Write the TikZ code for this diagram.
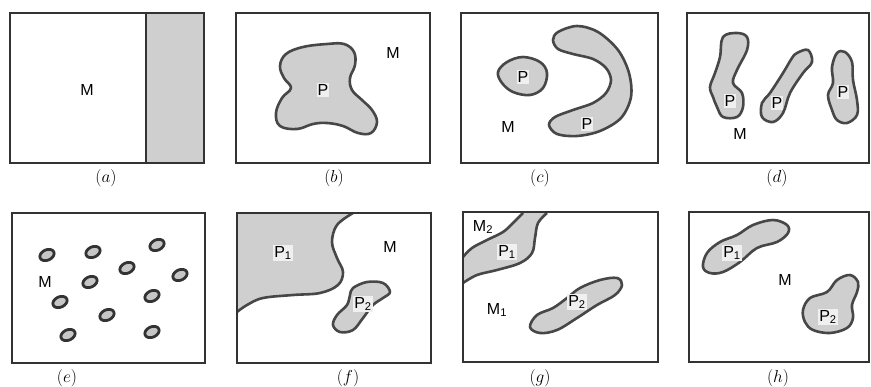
\documentclass[tikz,border=0pt]{standalone}
\usepackage{fontspec}
\setsansfont{Liberation Sans}
\begin{document}
\begin{tikzpicture}[x=1pt,y=-1pt,
  frame/.style={draw=black!80,line width=1.6pt},
  blob/.style={fill=gray!38,draw=black!72,line width=2.6pt,line join=round},
  region/.style={fill=gray!38},
  edge/.style={draw=black!72,line width=2.6pt},
  lab/.style={font=\sffamily\fontsize{16}{18}\selectfont,inner sep=1pt},
  plab/.style={lab,fill=gray!12},
  caplab/.style={font=\fontsize{16}{18}\selectfont},
  dot/.style={fill=gray!45,draw=black!80,line width=2.8pt}]
\useasboundingbox (0,0) rectangle (871,386);
% (a)
\fill[region] (146,13) rectangle (204,163);
\draw[frame] (146,13) -- (146,163);
\draw[frame] (10,13) rectangle (204,163);
\node[lab] (aM) at (87,90) {M};
\node[caplab] (ca) at (106,178) {$(a)$};
% (b)
\draw[frame] (236,13) rectangle (430,163);
\draw[blob] plot[smooth cycle,tension=0.65] coordinates {(286,54) (303,47) (327,44) (344,44) (354,52) (355,65) (350,78) (352,90) (362,100) (372,110) (377,122) (371,133) (358,133) (343,126) (327,123) (313,124) (297,129) (280,126) (276,113) (282,98) (291,88) (284,78) (280,66)};
\node[plab] (bP) at (323,90) {P};
\node[lab] (bM) at (393,53) {M};
\node[caplab] (cb) at (334,178) {$(b)$};
% (c)
\draw[frame] (461,13) rectangle (658,163);
\draw[blob] plot[smooth cycle,tension=0.6] coordinates {(498,72) (507,62) (523,57) (540,62) (547,73) (543,88) (530,95) (513,92) (502,83)};
\draw[blob] plot[smooth cycle,tension=0.55] coordinates {(558,32) (577,26) (598,32) (618,50) (629,73) (631,97) (621,118) (600,131) (577,136) (557,134) (549,125) (555,117) (573,110) (593,103) (606,93) (611,80) (606,68) (593,59) (573,54) (558,49) (553,40)};
\node[plab] (cP1) at (523,77) {P};
\node[plab] (cP2) at (587,124) {P};
\node[lab] (cM) at (508,127) {M};
\node[caplab] (cc) at (540,178) {$(c)$};
% (d)
\draw[frame] (687,13) rectangle (869,163);
\draw[blob] plot[smooth cycle,tension=0.6] coordinates {(723,37) (737,33) (747,37) (747,50) (737,70) (733,83) (742,93) (743,107) (737,117) (723,117) (717,107) (713,97) (710,87) (715,73) (720,57)};
\draw[blob] plot[smooth cycle,tension=0.6] coordinates {(797,53) (808,50) (812,62) (803,73) (790,93) (783,113) (773,122) (762,117) (762,103) (770,93) (783,73) (792,58)};
\draw[blob] plot[smooth cycle,tension=0.6] coordinates {(837,53) (845,52) (852,62) (853,80) (857,100) (857,115) (847,123) (837,120) (832,110) (828,95) (833,83) (832,67)};
\node[plab] (dP1) at (730,101) {P};
\node[plab] (dP2) at (777,103) {P};
\node[plab] (dP3) at (843,92) {P};
\node[lab] (dM) at (740,134) {M};
\node[caplab] (cd) at (777,178) {$(d)$};
% (e)
\draw[frame] (12,213) rectangle (205,363);
\foreach \x/\y in {47/255,93/252,157/245,127/268,180/275,90/282,60/302,152/296,107/315,68/335,152/332}
  \draw[dot,rotate around={25:(\x,\y)}] (\x,\y) ellipse (7.5 and 5.2);
\node[lab] (eM) at (45,282) {M};
\node[caplab] (ce) at (67,378) {$(e)$};
% (f)
\fill[region] (237,213) -- plot[smooth,tension=0.6] coordinates {(353,213) (337,225) (332,242) (337,258) (343,272) (338,285) (320,293) (293,295) (263,298) (247,305) (237,312)} -- cycle;
\draw[edge] plot[smooth,tension=0.6] coordinates {(353,213) (337,225) (332,242) (337,258) (343,272) (338,285) (320,293) (293,295) (263,298) (247,305) (237,312)};
\draw[blob] plot[smooth cycle,tension=0.6] coordinates {(353,288) (367,282) (383,283) (390,292) (383,298) (373,305) (363,318) (353,330) (340,332) (333,325) (337,315) (347,305) (350,295)};
\draw[frame] (237,213) rectangle (431,363);
\node[plab] (fP1) at (283,253) {P\textsubscript{1}};
\node[plab] (fP2) at (363,304) {P\textsubscript{2}};
\node[lab] (fM) at (390,247) {M};
\node[caplab] (cf) at (348,378) {$(f)$};
% (g)
\fill[region] plot[smooth,tension=0.6] coordinates {(523,213) (513,223) (503,232) (487,240) (472,248) (463,257)} -- plot[smooth,tension=0.6] coordinates {(463,283) (477,275) (497,270) (520,263) (532,253) (535,238) (538,223) (547,213)} -- cycle;
\draw[edge] plot[smooth,tension=0.6] coordinates {(523,213) (513,223) (503,232) (487,240) (472,248) (463,257)};
\draw[edge] plot[smooth,tension=0.6] coordinates {(463,283) (477,275) (497,270) (520,263) (532,253) (535,238) (538,223) (547,213)};
\draw[blob] plot[smooth cycle,tension=0.6] coordinates {(530,327) (537,315) (553,308) (567,298) (580,288) (600,280) (617,278) (622,285) (615,295) (597,305) (577,318) (557,330) (540,333)};
\draw[frame] (463,212) rectangle (658,362);
\node[lab] (gM2) at (483,227) {M\textsubscript{2}};
\node[plab] (gP1) at (507,252) {P\textsubscript{1}};
\node[lab] (gM1) at (497,310) {M\textsubscript{1}};
\node[plab] (gP2) at (577,302) {P\textsubscript{2}};
\node[caplab] (cg) at (540,378) {$(g)$};
% (h)
\draw[frame] (689,212) rectangle (869,362);
\draw[blob] plot[smooth cycle,tension=0.6] coordinates {(703,267) (707,253) (720,242) (737,235) (753,225) (773,220) (787,225) (788,233) (777,242) (757,248) (740,262) (723,272) (710,273)};
\draw[blob] plot[smooth cycle,tension=0.6] coordinates {(803,310) (810,298) (827,292) (837,280) (850,275) (858,282) (857,292) (852,305) (853,318) (847,328) (830,333) (813,330) (805,322)};
\node[plab] (hP1) at (732,253) {P\textsubscript{1}};
\node[plab] (hP2) at (828,317) {P\textsubscript{2}};
\node[lab] (hM) at (785,280) {M};
\node[caplab] (ch) at (778,378) {$(h)$};
\end{tikzpicture}
\end{document}
